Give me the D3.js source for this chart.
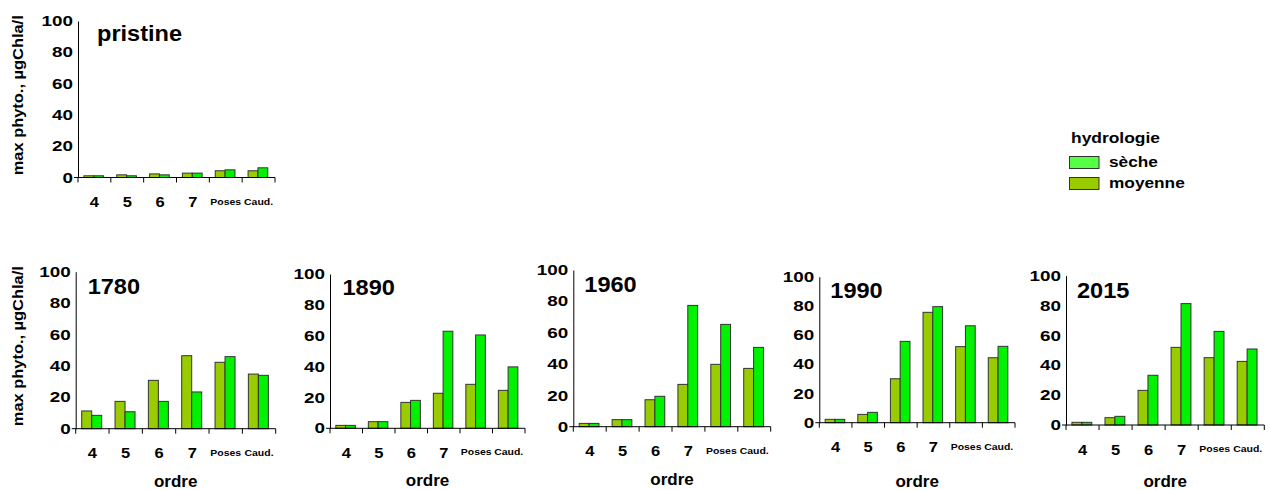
<!DOCTYPE html>
<html>
<head>
<meta charset="utf-8">
<script src="https://cdn.jsdelivr.net/npm/d3@7"></script>
<style>
  html, body { margin: 0; padding: 0; background: #fff; }
  svg { display: block; }
  text { font-family: Arial, "Liberation Sans", sans-serif; font-weight: bold; fill: #000; }
</style>
</head>
<body>
<svg id="chart" width="1269" height="490"></svg>
<script>
// Stream orders along the river network
const categories = ["4", "5", "6", "7", "Poses", "Caud."];
const seriesNames = ["moyenne", "sèche"];
const yTicks = [0, 20, 40, 60, 80, 100];

// Maximum phytoplankton (µgChla/l) per scenario, mean hydrology vs dry hydrology
const pristineMoyenne = [1.1, 1.7, 2.3, 2.8, 4.3, 4.3];
const pristineSeche   = [1.1, 1.1, 1.7, 2.8, 4.9, 6.2];
const y1780Moyenne = [11.3, 17.4, 30.8, 46.5, 42.3, 34.8];
const y1780Seche   = [8.5, 10.8, 17.4, 23.4, 45.9, 34.0];
const y1890Moyenne = [1.9, 4.3, 16.8, 22.7, 28.5, 24.6];
const y1890Seche   = [1.9, 4.3, 18.1, 62.9, 60.5, 39.8];
const y1960Moyenne = [2.1, 4.5, 17.2, 27.0, 39.8, 37.2];
const y1960Seche   = [2.1, 4.5, 19.4, 77.4, 65.3, 50.6];
const y1990Moyenne = [2.3, 5.7, 30.1, 75.6, 52.1, 44.5];
const y1990Seche   = [2.3, 7.1, 55.7, 79.5, 66.4, 52.3];
const y2015Moyenne = [1.8, 4.9, 23.2, 52.0, 45.1, 42.6];
const y2015Seche   = [1.8, 5.8, 33.3, 81.3, 62.7, 50.9];

const colors = { "moyenne": "#99cc00", "sèche": "#00f200" };
const legendColors = { "moyenne": "#99cc00", "sèche": "#55ff44" };

// Panel frames (plot area in pixels) and the series each one draws
const panels = [
  { title: "pristine", moy: pristineMoyenne, sec: pristineSeche,
    left: 78, right: 275, top: 21, bottom: 177.5, yLabel: true, xTitle: null, titleDx: 19, titleDy: 20 },
  { title: "1780", moy: y1780Moyenne, sec: y1780Seche,
    left: 75.7, right: 275.7, top: 271.7, bottom: 428.7, yLabel: true, xTitle: 58, titleDx: 12, titleDy: 22 },
  { title: "1890", moy: y1890Moyenne, sec: y1890Seche,
    left: 330, right: 525, top: 274, bottom: 428.3, yLabel: false, xTitle: 58, titleDx: 12.5, titleDy: 21 },
  { title: "1960", moy: y1960Moyenne, sec: y1960Seche,
    left: 573.3, right: 770.7, top: 270, bottom: 426.7, yLabel: false, xTitle: 58, titleDx: 11, titleDy: 21.5 },
  { title: "1990", moy: y1990Moyenne, sec: y1990Seche,
    left: 819.3, right: 1015, top: 276.7, bottom: 422.7, yLabel: false, xTitle: 64, titleDx: 11, titleDy: 21.5 },
  { title: "2015", moy: y2015Moyenne, sec: y2015Seche,
    left: 1066, right: 1264.3, top: 275.7, bottom: 425, yLabel: false, xTitle: 62, titleDx: 11, titleDy: 22.5 }
];

// widen a text horizontally (the labels are set slightly expanded)
function widen(sel, factor) {
  sel.each(function () {
    const w = this.getComputedTextLength();
    d3.select(this).attr("textLength", w * factor).attr("lengthAdjust", "spacingAndGlyphs");
  });
}

const svg = d3.select("#chart");

panels.forEach(p => {
  const g = svg.append("g");
  const x = d3.scaleBand().domain(categories).range([p.left, p.right]).padding(0);
  const bw = x.bandwidth();
  const xs = d3.scaleBand().domain(seriesNames).range([bw * 0.18, bw * 0.78]).padding(0);
  const y = d3.scaleLinear().domain([0, 100]).range([p.bottom, p.top]);

  // bars
  const rows = categories.map((c, i) => ({ cat: c, values: [
    { key: "moyenne", v: p.moy[i] }, { key: "sèche", v: p.sec[i] } ] }));
  const grp = g.selectAll("g.cat").data(rows).join("g")
    .attr("transform", d => `translate(${x(d.cat)},0)`);
  grp.selectAll("rect").data(d => d.values).join("rect")
    .attr("x", d => xs(d.key))
    .attr("width", xs.bandwidth())
    .attr("y", d => y(d.v))
    .attr("height", d => y(0) - y(d.v))
    .attr("fill", d => colors[d.key])
    .attr("stroke", "#333")
    .attr("stroke-width", 1);

  // y axis
  const yAxis = d3.axisLeft(y).tickValues(yTicks).tickSize(0).tickPadding(5);
  const ya = g.append("g").attr("transform", `translate(${p.left},0)`).call(yAxis);
  ya.select(".domain").attr("stroke", "#000");
  ya.selectAll("text").style("font-size", "14.5px")
    .style("font-family", "Arial, 'Liberation Sans', sans-serif").style("font-weight", "bold")
    .call(widen, 1.3);

  // x axis: ticks at category boundaries
  const xa = g.append("g");
  xa.append("line").attr("x1", p.left - 4).attr("x2", p.right)
    .attr("y1", p.bottom).attr("y2", p.bottom).attr("stroke", "#000");
  const bounds = categories.map(c => x(c)).concat([p.right]);
  xa.selectAll("line.tick").data(bounds).join("line").attr("class", "tick")
    .attr("x1", d => d).attr("x2", d => d)
    .attr("y1", p.bottom).attr("y2", p.bottom + 5).attr("stroke", "#000");
  xa.selectAll("text").data(categories).join("text")
    .attr("x", d => x(d) + bw / 2)
    .attr("y", d => p.bottom + (d.length > 1 ? 27 : 29.5))
    .attr("text-anchor", "middle")
    .style("font-size", d => d.length > 1 ? "9.5px" : "15px")
    .text(d => d)
    .call(widen, 1.1);

  // panel title
  g.append("text").attr("x", p.left + p.titleDx).attr("y", p.top + p.titleDy)
    .style("font-size", "22px").text(p.title)
    .call(widen, 1.07);

  if (p.yLabel) {
    g.append("text")
      .attr("transform", `translate(19,${(p.top + p.bottom) / 2 - 4}) rotate(-90)`)
      .attr("text-anchor", "middle").attr("dominant-baseline", "middle")
      .style("font-size", "14.5px").text("max phyto., µgChla/l")
      .attr("textLength", 160).attr("lengthAdjust", "spacingAndGlyphs");
  }
  if (p.xTitle) {
    g.append("text").attr("x", (p.left + p.right) / 2).attr("y", p.bottom + p.xTitle)
      .attr("text-anchor", "middle").style("font-size", "17px").text("ordre");
  }
});

// legend
const lg = svg.append("g");
lg.append("text").attr("x", 1071).attr("y", 143).style("font-size", "15px").text("hydrologie")
  .call(widen, 1.16);
const legendItems = ["sèche", "moyenne"];
lg.selectAll("rect").data(legendItems).join("rect")
  .attr("x", 1069.5).attr("y", (d, i) => 156.5 + i * 21)
  .attr("width", 29.5).attr("height", 12)
  .attr("fill", d => legendColors[d]).attr("stroke", "#333");
lg.selectAll("text.item").data(legendItems).join("text").attr("class", "item")
  .attr("x", 1109).attr("y", (d, i) => 167 + i * 21)
  .style("font-size", "15px").text(d => d)
  .call(widen, 1.15);
</script>
</body>
</html>
